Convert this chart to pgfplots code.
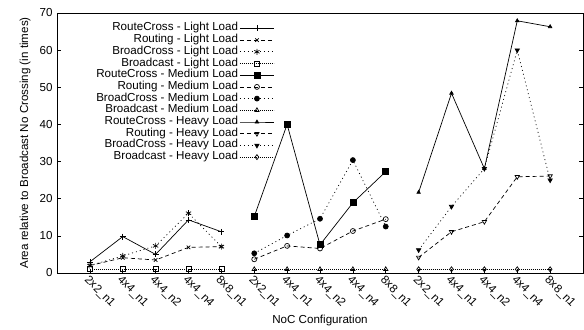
\documentclass[border=0pt]{standalone}
\usepackage{fontspec}
\setmainfont{Liberation Sans}
\usepackage{pgfplots}
\pgfplotsset{compat=1.18}
\begin{document}
\begin{tikzpicture}[font=\fontsize{11.6bp}{13bp}\selectfont]
\begin{axis}[
  width=526bp, height=260bp, scale only axis,
  xmin=-1, xmax=15, ymin=0, ymax=70,
  ytick={0,10,...,70},
  xtick={0,...,14},
  xticklabels={2x2\_n1,4x4\_n1,4x4\_n2,4x4\_n4,8x8\_n1,2x2\_n1,4x4\_n1,4x4\_n2,4x4\_n4,8x8\_n1,2x2\_n1,4x4\_n1,4x4\_n2,4x4\_n4,8x8\_n1},
  /pgf/number format/assume math mode=true,
  tick align=inside, major tick length=4bp,
  xtick pos=left, ytick pos=both,
  tick style={black, line width=0.6bp},
  axis line style={line width=0.8bp},
  xticklabel style={rotate=-45, anchor=north west, inner sep=1bp},
  yticklabel style={xshift=-1bp},
  xlabel={NoC Configuration},
  ylabel={Area relative to Broadcast No Crossing (in times)},
  xlabel style={at={(axis description cs:0.5,0)}, anchor=center, yshift=-48bp},
  ylabel style={at={(axis description cs:-0.0608,0.5)}, anchor=center},
  legend plot pos=right, legend cell align=right,
  legend style={at={(axis description cs:0.4135,0.964)}, anchor=north east, draw=none, fill=none, inner sep=0pt,
    row sep=0pt,
    nodes={inner ysep=0pt, inner xsep=1.5bp, text height=8.4bp, text depth=3.3bp}},
  legend image code/.code={\draw[mark repeat=2,mark phase=2] plot coordinates {(3bp,0bp) (20bp,0bp) (37bp,0bp)};},
  every axis plot/.append style={black, line width=0.7bp},
]
% Light load
\addplot[solid, mark=+, mark size=3bp] coordinates {(0,3.0) (1,9.8) (2,5.0) (3,14.3) (4,11.1)};
\addlegendentry{RouteCross - Light Load}
\addplot[dash pattern=on 4bp off 3bp, mark=x, mark size=2.5bp, mark options={solid}] coordinates {(0,2.0) (1,4.1) (2,3.5) (3,6.9) (4,7.1)};
\addlegendentry{Routing - Light Load}
\addplot[dash pattern=on 1bp off 3bp, mark=asterisk, mark size=3bp, mark options={solid}] coordinates {(0,2.0) (1,4.6) (2,7.3) (3,16.1) (4,7.1)};
\addlegendentry{BroadCross - Light Load}
\addplot[dash pattern=on 0.8bp off 1.2bp, mark=square, mark size=2.5bp, mark options={solid}] coordinates {(0,1) (1,1) (2,1) (3,1) (4,1)};
\addlegendentry{Broadcast - Light Load}
% Medium load
\addplot[solid, mark=square*, mark size=3bp] coordinates {(5,15.2) (6,40.0) (7,7.6) (8,18.9) (9,27.3)};
\addlegendentry{RouteCross - Medium Load}
\addplot[dash pattern=on 4bp off 3bp, mark=o, mark size=2.5bp, mark options={solid}] coordinates {(5,3.7) (6,7.3) (7,6.6) (8,11.3) (9,14.5)};
\addlegendentry{Routing - Medium Load}
\addplot[dash pattern=on 1bp off 3bp, mark=*, mark size=2.5bp, mark options={solid}] coordinates {(5,5.3) (6,10.1) (7,14.6) (8,30.4) (9,12.5)};
\addlegendentry{BroadCross - Medium Load}
\addplot[dash pattern=on 0.8bp off 1.2bp, mark=triangle, mark size=2.5bp, mark options={solid}] coordinates {(5,1) (6,1) (7,1) (8,1) (9,1)};
\addlegendentry{Broadcast - Medium Load}
% Heavy load
\addplot[solid, mark=triangle*, mark size=2bp] coordinates {(10,21.7) (11,48.4) (12,28.1) (13,67.9) (14,66.3)};
\addlegendentry{RouteCross - Heavy Load}
\addplot[dash pattern=on 4bp off 3bp, mark=triangle, mark size=2.5bp, mark options={solid, rotate=180}] coordinates {(10,4.2) (11,11.1) (12,13.8) (13,25.9) (14,26.1)};
\addlegendentry{Routing - Heavy Load}
\addplot[dash pattern=on 1bp off 3bp, mark=triangle*, mark size=2.5bp, mark options={solid, rotate=180}] coordinates {(10,6.2) (11,17.9) (12,28.1) (13,60.0) (14,25.0)};
\addlegendentry{BroadCross - Heavy Load}
\addplot[dash pattern=on 0.8bp off 1.2bp, mark=diamond, mark size=2.5bp, mark options={solid}] coordinates {(10,1) (11,1) (12,1) (13,1) (14,1)};
\addlegendentry{Broadcast - Heavy Load}
\end{axis}
\path ([xshift=-57bp,yshift=-54bp]current axis.south west) ([xshift=1bp,yshift=13bp]current axis.north east);
\end{tikzpicture}
\end{document}
